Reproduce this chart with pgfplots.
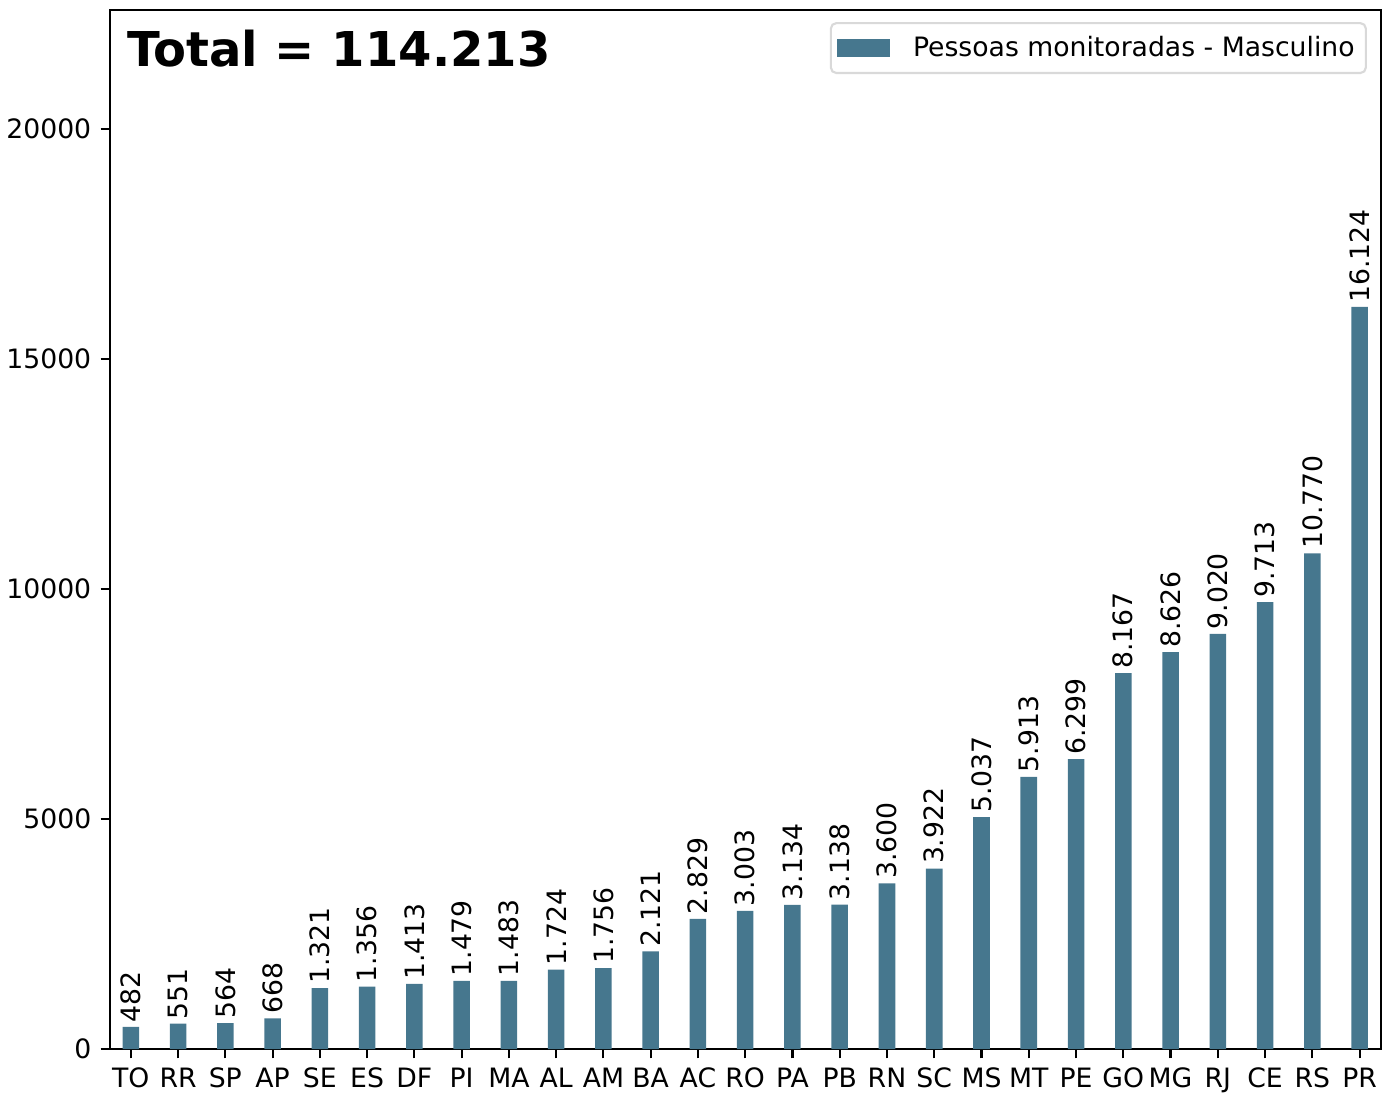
\documentclass[border=0pt]{standalone}
\usepackage{fontspec}
\setmainfont{DejaVu Sans}
\usepackage{pgfplots}
\usepackage{pgfplotstable}
\pgfplotsset{compat=1.18}
\definecolor{barc}{RGB}{70,119,142}
\pgfplotstableread{
x y lab
0 482 482
1 551 551
2 564 564
3 668 668
4 1321 1.321
5 1356 1.356
6 1413 1.413
7 1479 1.479
8 1483 1.483
9 1724 1.724
10 1756 1.756
11 2121 2.121
12 2829 2.829
13 3003 3.003
14 3134 3.134
15 3138 3.138
16 3600 3.600
17 3922 3.922
18 5037 5.037
19 5913 5.913
20 6299 6.299
21 8167 8.167
22 8626 8.626
23 9020 9.020
24 9713 9.713
25 10770 10.770
26 16124 16.124
}\datatable
\begin{document}
\begin{tikzpicture}
\useasboundingbox (-41.25pt,-16.5pt) rectangle (478.9pt,393.4pt);
\begin{axis}[
  scale only axis,
  width=476.6pt, height=389.6pt,
  xmin=-0.44, xmax=26.45,
  ymin=0, ymax=22574,
  xtick=data,
  xticklabels={TO,RR,SP,AP,SE,ES,DF,PI,MA,AL,AM,BA,AC,RO,PA,PB,RN,SC,MS,MT,PE,GO,MG,RJ,CE,RS,PR},
  ytick={0,5000,10000,15000,20000},
  scaled y ticks=false,
  /pgf/number format/fixed,
  /pgf/number format/set thousands separator={},
  /pgf/number format/assume math mode=true,
  tick label style={font=\fontsize{10}{12}\selectfont},
  tick align=outside,
  xtick pos=bottom, ytick pos=left,
  major tick length=3.5pt,
  tick style={black, line width=0.8pt},
  axis line style={line width=0.8pt},
  legend style={at={(0.989,0.9885)}, anchor=north east, draw=black!15, line width=0.8pt, rounded corners=2pt, font=\fontsize{10}{12}\selectfont, inner xsep=2.2pt, inner ysep=2.8pt, column sep=6.6pt},
  legend image code/.code={\fill[barc, sharp corners] (3.4pt,-3.5pt) rectangle (23.4pt,3.5pt);},
  legend cell align=left,
]
\addplot[ybar, bar width=0.35, fill=barc, draw=none,
  point meta=explicit symbolic,
  nodes near coords={\pgfplotspointmeta},
  every node near coord/.append style={rotate=90, anchor=west, inner sep=1.5pt, font=\fontsize{10}{12}\selectfont, black}
] table[x=x, y=y, meta=lab] {\datatable};
\addlegendentry{Pessoas monitoradas - Masculino}
\node[anchor=west, font=\bfseries\fontsize{18}{20}\selectfont, inner sep=0pt] at (rel axis cs:0.013,0.963) {Total = 114.213};
\end{axis}
\end{tikzpicture}
\end{document}
